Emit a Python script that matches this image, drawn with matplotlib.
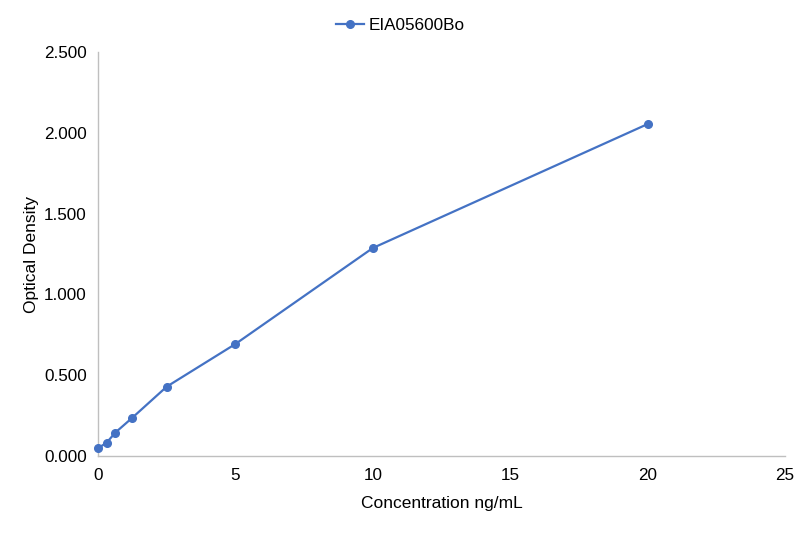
import matplotlib
matplotlib.use("Agg")
import matplotlib.pyplot as plt
from matplotlib.ticker import FuncFormatter

plt.rcParams['font.family'] = ['Liberation Sans', 'DejaVu Sans']

conc = [0, 0.3125, 0.625, 1.25, 2.5, 5, 10, 20]
od = [0.048, 0.082, 0.144, 0.237, 0.429, 0.693, 1.287, 2.054]
series_name = "EIA05600Bo"

fig = plt.figure(figsize=(8.01, 5.33), dpi=100)
ax = fig.add_axes([98/801, 1-456/533, (785-98)/801, (456-52)/533])
color = '#4472C4'
ax.plot(conc, od, color=color, marker='o', markersize=5.5, linewidth=1.6,
        label=series_name, clip_on=False, zorder=3)
ax.set_xlim(0, 25)
ax.set_ylim(0, 2.5)
ax.set_xticks([0, 5, 10, 15, 20, 25])
ax.set_yticks([0, 0.5, 1.0, 1.5, 2.0, 2.5])
ax.yaxis.set_major_formatter(FuncFormatter(lambda v, p: f"{v:.3f}"))
for s in ['top', 'right']:
    ax.spines[s].set_visible(False)
for s in ['left', 'bottom']:
    ax.spines[s].set_color('#BFBFBF')
    ax.spines[s].set_linewidth(1.0)
ax.tick_params(length=0, labelsize=12.3, colors='#000000', pad=8)
ax.tick_params(axis='x', pad=9)
ax.set_xlabel('Concentration ng/mL', fontsize=12.5, labelpad=9)
ax.set_ylabel('Optical Density', fontsize=12.5)
ax.yaxis.set_label_coords(-0.0856, 0.5)
fig.legend(*ax.get_legend_handles_labels(), loc='upper center',
           bbox_to_anchor=(0.5, 0.996), bbox_transform=fig.transFigure,
           frameon=False, fontsize=12.3, handlelength=1.6, handletextpad=0.3)
fig.savefig('out.png', dpi=100)
